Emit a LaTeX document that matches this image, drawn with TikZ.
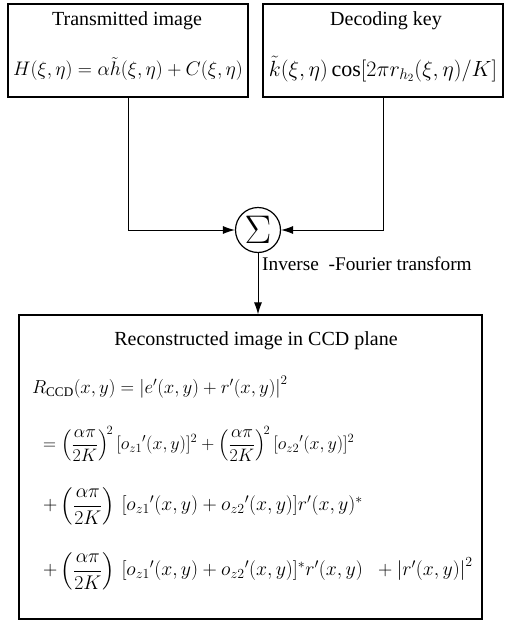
\documentclass[tikz,border=0pt]{standalone}
\usepackage{fix-cm}
\usepackage{fontspec}
\usepackage{amsmath}
\setmainfont{Liberation Serif}
\usetikzlibrary{arrows.meta}
\newcommand{\fs}[1]{\fontsize{#1}{#1}\selectfont}
\begin{document}
\begin{tikzpicture}[x=1pt,y=-1pt,
  box/.style={draw, line width=1.2pt, rectangle, inner sep=0pt},
  conn/.style={line width=0.9pt},
  arr/.style={conn, -{Latex[length=12pt,width=8pt]}},
  ttl/.style={inner sep=0pt, font=\fs{20}},
  eqb/.style={inner sep=0pt, anchor=west}]
\useasboundingbox (0,0) rectangle (505,621);
% boxes
\node[box, minimum width=240pt, minimum height=93pt] (b1) at (128,50.5) {};
\node[box, minimum width=240pt, minimum height=93pt] (b2) at (383,50.5) {};
\node[box, minimum width=463pt, minimum height=304pt] (b3) at (250.5,467) {};
% texts
\node[ttl] (t1) at (127,21) {Transmitted image};
\node[inner sep=0pt, font=\fs{19.6}] (e1) at (128,69) {$H(\xi,\eta)=\alpha\tilde{h}(\xi,\eta)+C(\xi,\eta)$};
\node[ttl] (t2) at (386,21) {Decoding key};
\node[inner sep=0pt, font=\fs{22}] (e2) at (383,69) {$\tilde{k}(\xi,\eta)\cos[2\pi r_{h_2}(\xi,\eta)/K]$};
\node[ttl] (t3) at (256,341) {Reconstructed image in CCD plane};
% sigma
\node[draw, circle, line width=1.2pt, minimum size=45pt, inner sep=0pt] (sig) at (258,230)
  {\fs{40}$\Sigma$};
% connectors
\draw[arr] (b1.south) |- (sig.west);
\draw[arr] (b2.south) |- (sig.east);
\draw[arr] (sig.south) -- (sig.south |- b3.north);
\node[inner sep=0pt, anchor=west, font=\fs{19.3}] (lab) at (262,264) {Inverse\ \ -Fourier transform};
% equations in box 3
\node[eqb, font=\fs{18.8}] (q1) at (32,387) {$R_{\mathrm{CCD}}(x,y)=\left|e'(x,y)+r'(x,y)\right|^{2}$};
\node[eqb, font=\fs{18}] (q2) at (43,444) {$=\left(\dfrac{\alpha\pi}{2K}\right)^{\!2}[{o_{z1}}'(x,y)]^{2}+\left(\dfrac{\alpha\pi}{2K}\right)^{\!2}[{o_{z2}}'(x,y)]^{2}$};
\node[eqb, font=\fs{19.8}] (q3) at (43,506) {$+\left(\dfrac{\alpha\pi}{2K}\right)\,[{o_{z1}}'(x,y)+{o_{z2}}'(x,y)]r'(x,y)^{*}$};
\node[eqb, font=\fs{19.8}] (q4) at (43,571) {$+\left(\dfrac{\alpha\pi}{2K}\right)\,[{o_{z1}}'(x,y)+{o_{z2}}'(x,y)]^{*}r'(x,y)\;\;+\left|r'(x,y)\right|^{2}$};
\end{tikzpicture}
\end{document}
